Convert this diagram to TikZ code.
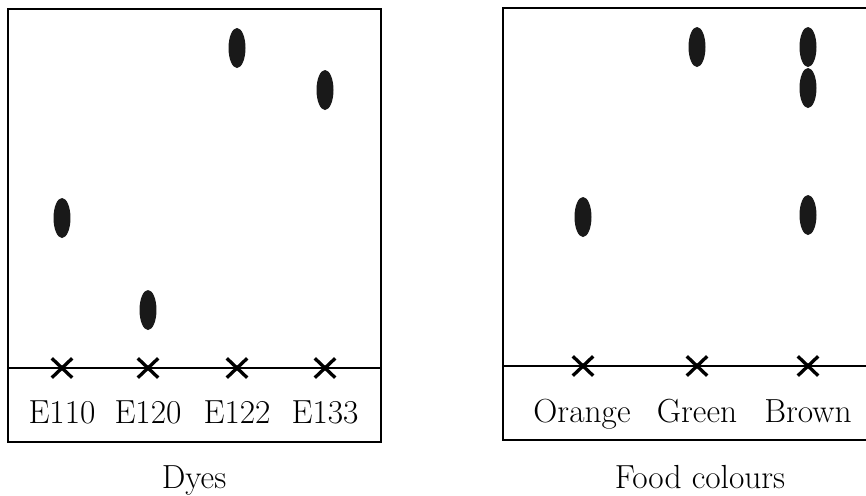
\documentclass[tikz,border=0pt]{standalone}
\usepackage{tikz}
\usetikzlibrary{positioning, shapes.geometric, shapes.misc}
\tikzset{
    spot/.style={
        ellipse,
        fill=black!90, % dark spot
        minimum width=0.34cm,
        minimum height=0.8cm,
        inner sep=0
    },
    origin/.style={
        cross out,
        draw,
        line width=1.9pt, % thick cross
        minimum width=0.34cm,
        minimum height=0.32cm,
        inner sep=0
    },
    lbl/.style={
        anchor=base,
        font=\fontsize{19}{22}\selectfont
    }
}

\begin{document}
\begin{tikzpicture}[x=0.02cm, y=-0.02cm, line width=1.1pt]
    \useasboundingbox (0,0) rectangle (866,495);
    % left plate: dyes
    \draw (8,9) rectangle (381,442);
    \coordinate (lstart) at (8,368);
    \coordinate (lend) at (381,368);
    \draw[line width=0.9pt] (lstart) -- (lend);
    \node[origin] (e110x) at (62,368) {};
    \node[origin] (e120x) at (148,368) {};
    \node[origin] (e122x) at (237,368) {};
    \node[origin] (e133x) at (325,368) {};
    \node[spot] (e110spot) at (62,218) {};
    \node[spot] (e120spot) at (148,310) {};
    \node[spot] (e122spot) at (237,48) {};
    \node[spot] (e133spot) at (325,90) {};
    \node[lbl] (e110) at (62,423) {E110};
    \node[lbl] (e120) at (148,423) {E120};
    \node[lbl] (e122) at (237,423) {E122};
    \node[lbl] (e133) at (325,423) {E133};
    \node[lbl] (dyes) at (194,488) {Dyes};
    % right plate: food colours
    \draw (870,8) -- (503,8) -- (503,440) -- (870,440);
    \coordinate (rstart) at (503,366);
    \coordinate (rend) at (870,366);
    \draw[line width=0.9pt] (rstart) -- (rend);
    \node[origin] (orangex) at (583,366) {};
    \node[origin] (greenx) at (697,366) {};
    \node[origin] (brownx) at (808,366) {};
    \node[spot] (orangespot) at (583,217) {};
    \node[spot] (greenspot) at (697,47) {};
    \node[spot] (browntop) at (808,47) {};
    \node[spot] (brownmid) at (808,88) {};
    \node[spot] (brownlow) at (808,215) {};
    \node[lbl] (orange) at (582,422) {Orange};
    \node[lbl] (green) at (697,422) {Green};
    \node[lbl] (brown) at (808,422) {Brown};
    \node[lbl] (food) at (700,488) {Food colours};
\end{tikzpicture}
\end{document}
